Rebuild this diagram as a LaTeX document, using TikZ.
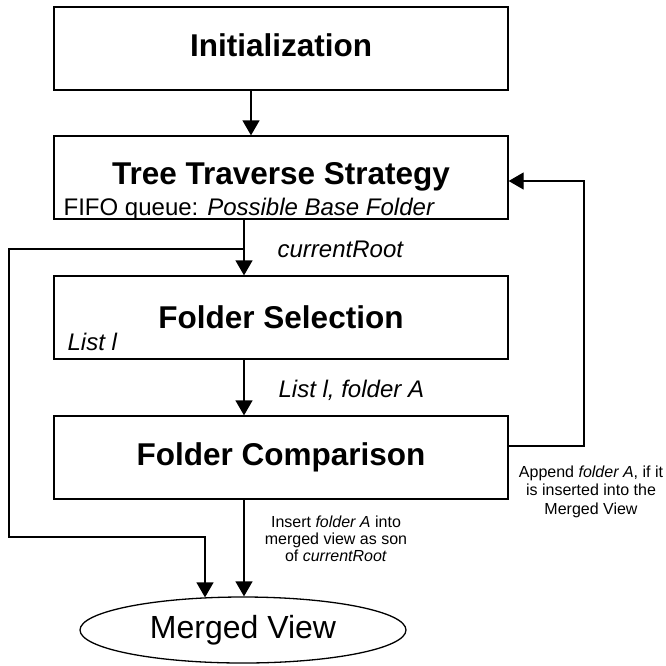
\documentclass[tikz,border=0pt]{standalone}
\usepackage{fontspec}
\setmainfont{Liberation Sans}
\usetikzlibrary{arrows.meta,shapes.geometric}
\newcommand{\titlefnt}{\fontsize{31.5}{36}\selectfont\bfseries}
\newcommand{\lblfnt}{\fontsize{24}{28}\selectfont}
\newcommand{\notefnt}{\fontsize{16}{17}\selectfont}
\tikzset{
  fc_box/.style = {rectangle, draw=black, line width=1.3pt, inner sep=0pt,
    minimum width=454pt, minimum height=83pt, font=\titlefnt},
  fc_init/.style = {fc_box, line width=2.2pt},
  fc_end/.style = {ellipse, draw=black, line width=1.3pt, inner sep=0pt,
    minimum width=326pt, minimum height=66pt, font=\fontsize{32}{36}\selectfont},
  fc_lbl/.style = {inner sep=0pt, font=\lblfnt\itshape, anchor=base west},
  fc_note/.style = {inner sep=0pt, align=center, font=\notefnt}
}

\begin{document}
\begin{tikzpicture}[x=1pt,y=-1pt,line width=1.3pt,
  ->,>={Triangle[length=15pt,width=17pt]}]
\useasboundingbox (0,0) rectangle (666,665);
% boxes
\node [fc_init] (init) at (281,48.5) {};
\node [inner sep=0pt, font=\titlefnt] (initT) at (281,45) {Initialization};
\node [fc_box] (tree) at (281,177.5) {};
\node [inner sep=0pt, font=\titlefnt] (treeT) at (281,177) {Tree Traverse Strategy};
\node [inner sep=0pt, font=\lblfnt, anchor=base west] (fifo) at (63,215)
  {FIFO queue: \textit{Possible Base Folder}};
\node [fc_box] (sel) at (281,317.5) {Folder Selection};
\node [fc_lbl] (lst) at (67,350) {List l};
\node [fc_box] (comp) at (281,457.5) {Folder Comparison};
\node [fc_end] (mv) at (243,630) {Merged View};
% labels
\node [fc_lbl] (cur) at (277,257) {currentRoot};
\node [fc_lbl] (lstA) at (278,397) {List l, folder A};
\node [fc_note] (ins) at (336,539)
  {Insert \textit{folder A} into\\merged view as son\\of \textit{currentRoot}};
\node [fc_note, font=\fontsize{16}{18.5}\selectfont] (app) at (591,491.5)
  {Append \textit{folder A}, if it\\is inserted into the\\Merged View};
% helper points
\coordinate (c1) at (251,0);
\coordinate (c2) at (244,0);
\coordinate (c3) at (205,0);
\coordinate (split) at (244,249);
\coordinate (lft) at (9,537);
\coordinate (rt) at (584,446);
% connectors
\draw (init.south -| c1) -- (tree.north -| c1);
\draw (tree.south -| c2) -- (sel.north -| c2);
\draw (sel.south -| c2) -- (comp.north -| c2);
\draw (comp.south -| c2) -- (mv.north -| c2);
\draw (split) -| (lft) -| ([yshift=-1pt]mv.north -| c3);
\draw (rt -| comp.east) -- (rt) |- ([yshift=-3.5pt]tree.east);
\end{tikzpicture}
\end{document}
